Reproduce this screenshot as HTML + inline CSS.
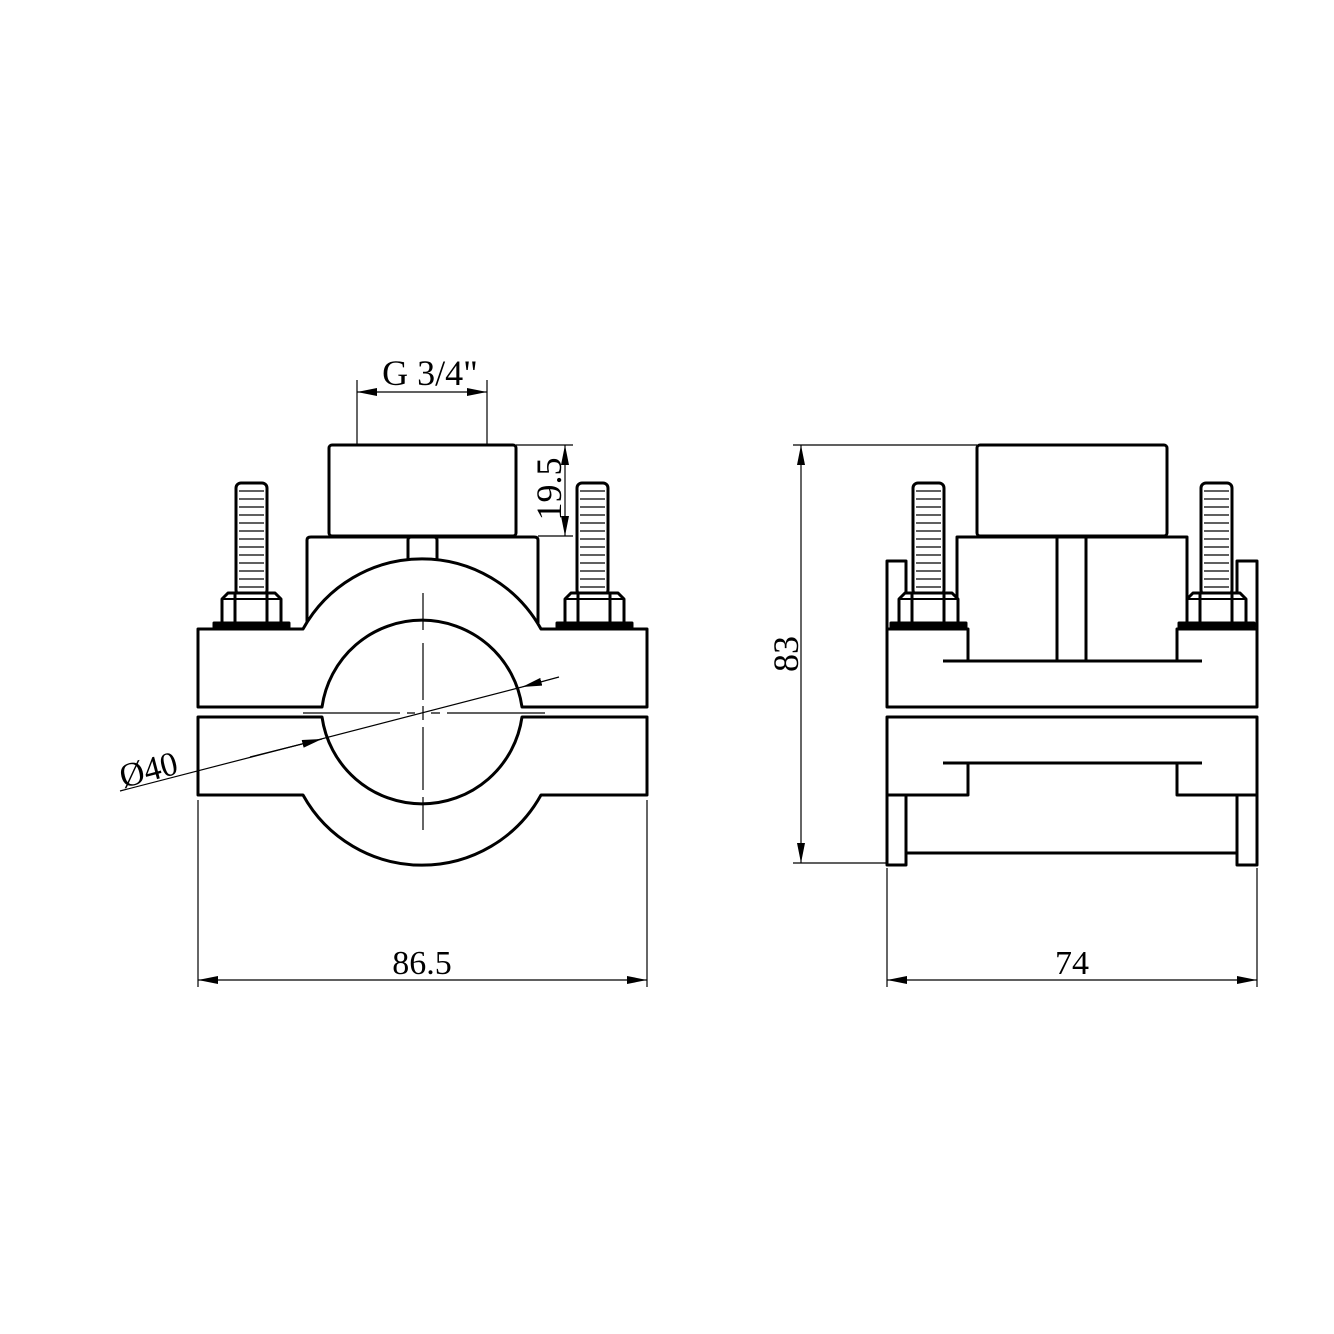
<!DOCTYPE html>
<html><head><meta charset="utf-8"><style>
html,body{margin:0;padding:0;background:#fff;}
svg{display:block}
text{font-family:"Liberation Serif",serif;fill:#000}
</style></head><body>
<svg width="1334" height="1334" viewBox="0 0 1334 1334" xmlns="http://www.w3.org/2000/svg">
<defs>
<marker id="ar" viewBox="0 0 20 8" refX="20" refY="4" markerWidth="20" markerHeight="8" markerUnits="userSpaceOnUse" orient="auto-start-reverse"><path d="M0,0 L20,4 L0,8 z" fill="#000"/></marker>
<g id="bolt">
<rect x="0" y="0" width="31" height="112" rx="5" fill="#fff" stroke="#000" stroke-width="3"/>
<g stroke="#000" stroke-width="1.2">
<line x1="3" y1="8" x2="28" y2="8"/><line x1="3" y1="16" x2="28" y2="16"/><line x1="3" y1="24" x2="28" y2="24"/><line x1="3" y1="32" x2="28" y2="32"/><line x1="3" y1="40" x2="28" y2="40"/><line x1="3" y1="48" x2="28" y2="48"/><line x1="3" y1="56" x2="28" y2="56"/><line x1="3" y1="64" x2="28" y2="64"/><line x1="3" y1="72" x2="28" y2="72"/><line x1="3" y1="80" x2="28" y2="80"/><line x1="3" y1="88" x2="28" y2="88"/><line x1="3" y1="96" x2="28" y2="96"/><line x1="3" y1="104" x2="28" y2="104"/>
</g></g>
<g id="nut">
<path d="M0,34 L0,8 L6,2 L53,2 L59,8 L59,34" fill="#fff" stroke="#000" stroke-width="3"/>
<line x1="0" y1="8" x2="59" y2="8" stroke="#000" stroke-width="2"/>
<line x1="13" y1="3" x2="13" y2="34" stroke="#000" stroke-width="3"/>
<line x1="45" y1="3" x2="45" y2="34" stroke="#000" stroke-width="3"/>
<rect x="-8" y="32" width="75" height="4" fill="#000"/>
</g>
</defs>
<g fill="none" stroke="#000" stroke-width="3" stroke-linejoin="round">
<rect x="329" y="445" width="187" height="91" rx="3" fill="#fff"/>
<path d="M307,623 L307,540 Q307,537 311,537 L534,537 Q538,537 538,540 L538,623" fill="#fff"/>
<rect x="408" y="537" width="29" height="25" rx="3" fill="#fff"/>
<use href="#bolt" x="236" y="483"/>
<use href="#nut" x="222" y="591"/>
<use href="#bolt" x="577" y="483"/>
<use href="#nut" x="565" y="591"/>
<path d="M198,707 L198,629 L303,629 A136,136 0 0 1 541,629 L647,629 L647,707 L522,707 A101,101 0 0 0 322,707 Z" fill="#fff"/>
<path d="M198,717 L198,795 L303,795 A136,136 0 0 0 541,795 L647,795 L647,717 L522,717 A101,101 0 0 1 322,717 Z" fill="#fff"/>
<rect x="977" y="445" width="190" height="91" rx="3" fill="#fff"/>
<rect x="957" y="537" width="230" height="124" fill="#fff"/>
<line x1="1057" y1="537" x2="1057" y2="661"/>
<line x1="1086" y1="537" x2="1086" y2="661"/>
<rect x="887" y="561" width="19" height="68" fill="#fff"/>
<rect x="1237" y="561" width="20" height="68" fill="#fff"/>
<use href="#bolt" x="913" y="483"/>
<use href="#nut" x="899" y="591"/>
<use href="#bolt" x="1201" y="483"/>
<use href="#nut" x="1187" y="591"/>
<path d="M887,629 L968,629 L968,661 L1177,661 L1177,629 L1257,629 L1257,707 L887,707 Z" fill="#fff"/>
<line x1="943" y1="661" x2="1202" y2="661"/>
<path d="M887,717 L1257,717 L1257,795 L1177,795 L1177,763 L968,763 L968,795 L887,795 Z" fill="#fff"/>
<line x1="943" y1="763" x2="1202" y2="763"/>
<rect x="887" y="795" width="19" height="70"/>
<rect x="1237" y="795" width="20" height="70"/>
<line x1="906" y1="853" x2="1237" y2="853"/>
</g>
<g stroke="#000" stroke-width="1.2" fill="none">
<path d="M423,593 L423,630 M423,643 L423,700 M423,706 L423,720 M423,727 L423,790 M423,797 L423,830" />
<path d="M303,713 L400,713 M407,713 L415,713 M431,713 L440,713 M447,713 L545,713"/>
</g>
<g stroke="#000" stroke-width="1.2" fill="none">
<line x1="357" y1="380" x2="357" y2="445"/>
<line x1="487" y1="380" x2="487" y2="445"/>
<line x1="357" y1="392" x2="487" y2="392" marker-start="url(#ar)" marker-end="url(#ar)"/>
<line x1="516" y1="445" x2="573" y2="445"/>
<line x1="538" y1="536" x2="573" y2="536"/>
<line x1="565" y1="445" x2="565" y2="536" marker-start="url(#ar)" marker-end="url(#ar)"/>
<line x1="120" y1="791" x2="522" y2="687"/>
<line x1="559" y1="677" x2="522" y2="687" marker-end="url(#ar)"/>
<line x1="250" y1="757" x2="322" y2="739" marker-end="url(#ar)"/>
<line x1="198" y1="800" x2="198" y2="987"/>
<line x1="647" y1="800" x2="647" y2="987"/>
<line x1="198" y1="980" x2="647" y2="980" marker-start="url(#ar)" marker-end="url(#ar)"/>
<line x1="887" y1="868" x2="887" y2="987"/>
<line x1="1257" y1="868" x2="1257" y2="987"/>
<line x1="887" y1="980" x2="1257" y2="980" marker-start="url(#ar)" marker-end="url(#ar)"/>
<line x1="793" y1="445" x2="977" y2="445"/>
<line x1="793" y1="863" x2="887" y2="863"/>
<line x1="801" y1="445" x2="801" y2="863" marker-start="url(#ar)" marker-end="url(#ar)"/>
</g>
<text x="430" y="385" font-size="36" text-anchor="middle">G 3/4"</text>
<text x="0" y="0" font-size="36" text-anchor="middle" transform="translate(561,489) rotate(-90)">19.5</text>
<text x="0" y="0" font-size="36" text-anchor="middle" transform="translate(798,654) rotate(-90)">83</text>
<text x="0" y="0" font-size="34" transform="translate(123,788) rotate(-14.6)">Ø40</text>
<text x="422" y="974" font-size="34" text-anchor="middle">86.5</text>
<text x="1072" y="974" font-size="34" text-anchor="middle">74</text>
</svg>
</body></html>
